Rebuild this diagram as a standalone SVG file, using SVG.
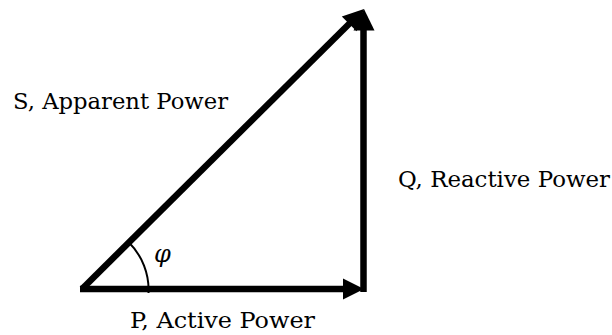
<svg xmlns="http://www.w3.org/2000/svg" width="612" height="335" viewBox="0 0 612 335">
<style>
.vec{stroke:#000;stroke-width:6.5;fill:none;stroke-linecap:butt}
.head{fill:#000;stroke:none}
.lbl{font-family:"DejaVu Serif","Liberation Serif",serif;font-size:22px;fill:#000}
.ang{font-family:"DejaVu Serif","Liberation Serif",serif;font-style:italic;font-size:24px;fill:#000}
</style>
<rect width="612" height="335" fill="#fff"/>
<g id="connectors">
  <g id="P">
    <line class="vec" x1="80" y1="289" x2="345" y2="289"/>
    <polygon class="head" points="364,289 343,278.5 343,299.5"/>
  </g>
  <g id="Q">
    <line class="vec" x1="363.5" y1="292" x2="363.5" y2="28"/>
    <polygon class="head" points="364,9 353.5,30.5 374.5,30.5"/>
  </g>
  <g id="S">
    <line class="vec" x1="82" y1="289" x2="351" y2="22"/>
    <polygon class="head" points="364,9 341.8,16.4 356.6,31.2"/>
  </g>
  <path id="angle-arc" d="M128.7,242.3 A66.5,66.5 0 0 1 148.5,293" fill="none" stroke="#000" stroke-width="2"/>
</g>
<g id="label-S"><text class="lbl" x="13" y="109" textLength="215" lengthAdjust="spacingAndGlyphs">S, Apparent Power</text></g>
<g id="label-Q"><text class="lbl" x="398" y="187" textLength="212" lengthAdjust="spacingAndGlyphs">Q, Reactive Power</text></g>
<g id="label-P"><text class="lbl" x="130" y="328" textLength="185" lengthAdjust="spacingAndGlyphs">P, Active Power</text></g>
<g id="label-phi"><text class="ang" x="154" y="262">φ</text></g>
</svg>
